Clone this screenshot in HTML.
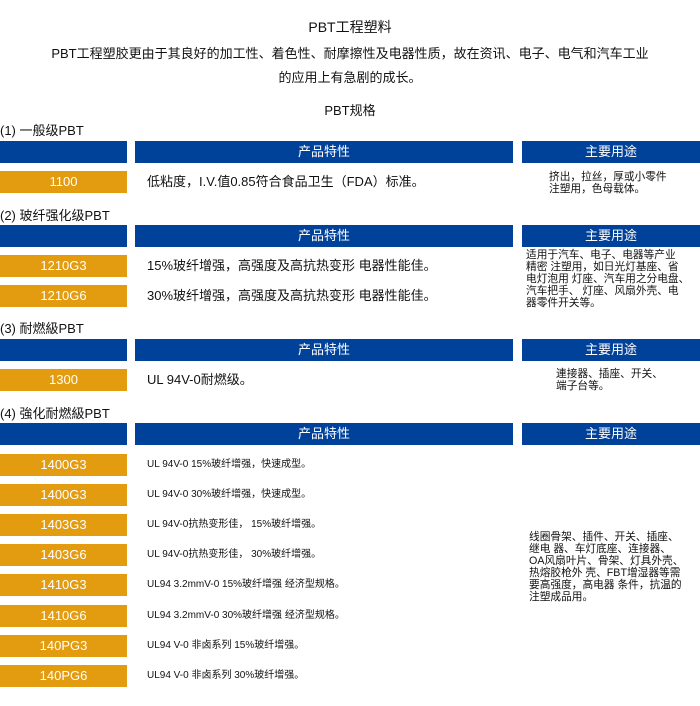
<!DOCTYPE html>
<html><head><meta charset="utf-8"><style>
body{margin:0;width:700px;height:706px;background:#fff;font-family:"Liberation Sans","Noto Sans CJK SC",sans-serif;color:#111;position:relative;overflow:hidden}
.a{position:absolute;white-space:nowrap}
.b{position:absolute;background:#00419a;color:#fff;height:22px;line-height:22px;text-align:center;font-size:13px}
.o{position:absolute;left:0;width:127px;background:#e39b10;color:#fff;height:22px;line-height:22px;text-align:center;font-size:13px}
.t{position:absolute;left:147px;font-size:13px;line-height:22px;white-space:nowrap}
.s{font-size:10px}
.u{position:absolute;font-size:10.7px;line-height:12px;white-space:nowrap}
</style></head><body>
<div class="a" style="left:0;width:700px;text-align:center;top:17px;font-size:14px">PBT工程塑料</div>
<div class="a" style="left:0;width:700px;text-align:center;top:43px;font-size:13px">PBT工程塑胶更由于其良好的加工性、着色性、耐摩擦性及电器性质，故在资讯、电子、电气和汽车工业</div>
<div class="a" style="left:0;width:700px;text-align:center;top:67px;font-size:13px">的应用上有急剧的成长。</div>
<div class="a" style="left:0;width:700px;text-align:center;top:100px;font-size:13px">PBT规格</div>

<div class="a" style="left:0;top:120px;font-size:13px">(1) 一般级PBT</div>
<div class="b" style="left:0;width:127px;top:141px"></div><div class="b" style="left:135px;width:378px;top:141px">产品特性</div><div class="b" style="left:522px;width:178px;top:141px">主要用途</div>
<div class="o" style="top:171px">1100</div><div class="t" style="top:171px">低粘度，I.V.值0.85符合食品卫生（FDA）标准。</div>
<div class="u" style="left:549px;top:171px">挤出，拉丝，厚或小零件<br>注塑用，色母载体。</div>

<div class="a" style="left:0;top:205px;font-size:13px">(2) 玻纤强化级PBT</div>
<div class="b" style="left:0;width:127px;top:225px"></div><div class="b" style="left:135px;width:378px;top:225px">产品特性</div><div class="b" style="left:522px;width:178px;top:225px">主要用途</div>
<div class="o" style="top:255px">1210G3</div><div class="t" style="top:255px">15%玻纤增强，高强度及高抗热变形 电器性能佳。</div>
<div class="o" style="top:285px">1210G6</div><div class="t" style="top:285px">30%玻纤增强，高强度及高抗热变形 电器性能佳。</div>
<div class="u" style="left:526px;top:249px">适用于汽车、电子、电器等产业<br>精密 注塑用，如日光灯基座、省<br>电灯泡用 灯座、汽车用之分电盘、<br>汽车把手、 灯座、风扇外壳、电<br>器零件开关等。</div>

<div class="a" style="left:0;top:318px;font-size:13px">(3) 耐燃級PBT</div>
<div class="b" style="left:0;width:127px;top:339px"></div><div class="b" style="left:135px;width:378px;top:339px">产品特性</div><div class="b" style="left:522px;width:178px;top:339px">主要用途</div>
<div class="o" style="top:369px">1300</div><div class="t" style="top:369px">UL 94V-0耐燃级。</div>
<div class="u" style="left:556px;top:368px">連接器、插座、开关、<br>端子台等。</div>

<div class="a" style="left:0;top:403px;font-size:13px">(4) 強化耐燃級PBT</div>
<div class="b" style="left:0;width:127px;top:423px"></div><div class="b" style="left:135px;width:378px;top:423px">产品特性</div><div class="b" style="left:522px;width:178px;top:423px">主要用途</div>
<div class="o" style="top:454px">1400G3</div><div class="t s" style="top:454px">UL 94V-0 15%玻纤增强，快速成型。</div>
<div class="o" style="top:484px">1400G3</div><div class="t s" style="top:484px">UL 94V-0 30%玻纤增强，快速成型。</div>
<div class="o" style="top:514px">1403G3</div><div class="t s" style="top:514px">UL 94V-0抗热变形佳， 15%玻纤增强。</div>
<div class="o" style="top:544px">1403G6</div><div class="t s" style="top:544px">UL 94V-0抗热变形佳， 30%玻纤增强。</div>
<div class="o" style="top:574px">1410G3</div><div class="t s" style="top:574px">UL94 3.2mmV-0 15%玻纤增强 经济型规格。</div>
<div class="o" style="top:605px">1410G6</div><div class="t s" style="top:605px">UL94 3.2mmV-0 30%玻纤增强 经济型规格。</div>
<div class="o" style="top:635px">140PG3</div><div class="t s" style="top:635px">UL94 V-0 非卤系列 15%玻纤增强。</div>
<div class="o" style="top:665px">140PG6</div><div class="t s" style="top:665px">UL94 V-0 非卤系列 30%玻纤增强。</div>
<div class="u" style="left:529px;top:531px">线圈骨架、插件、开关、插座、<br>继电 器、车灯底座、连接器、<br>OA风扇叶片、骨架、灯具外壳、<br>热熔胶枪外 壳、FBT增湿器等需<br>要高强度，高电器 条件，抗温的<br>注塑成品用。</div>
</body></html>
